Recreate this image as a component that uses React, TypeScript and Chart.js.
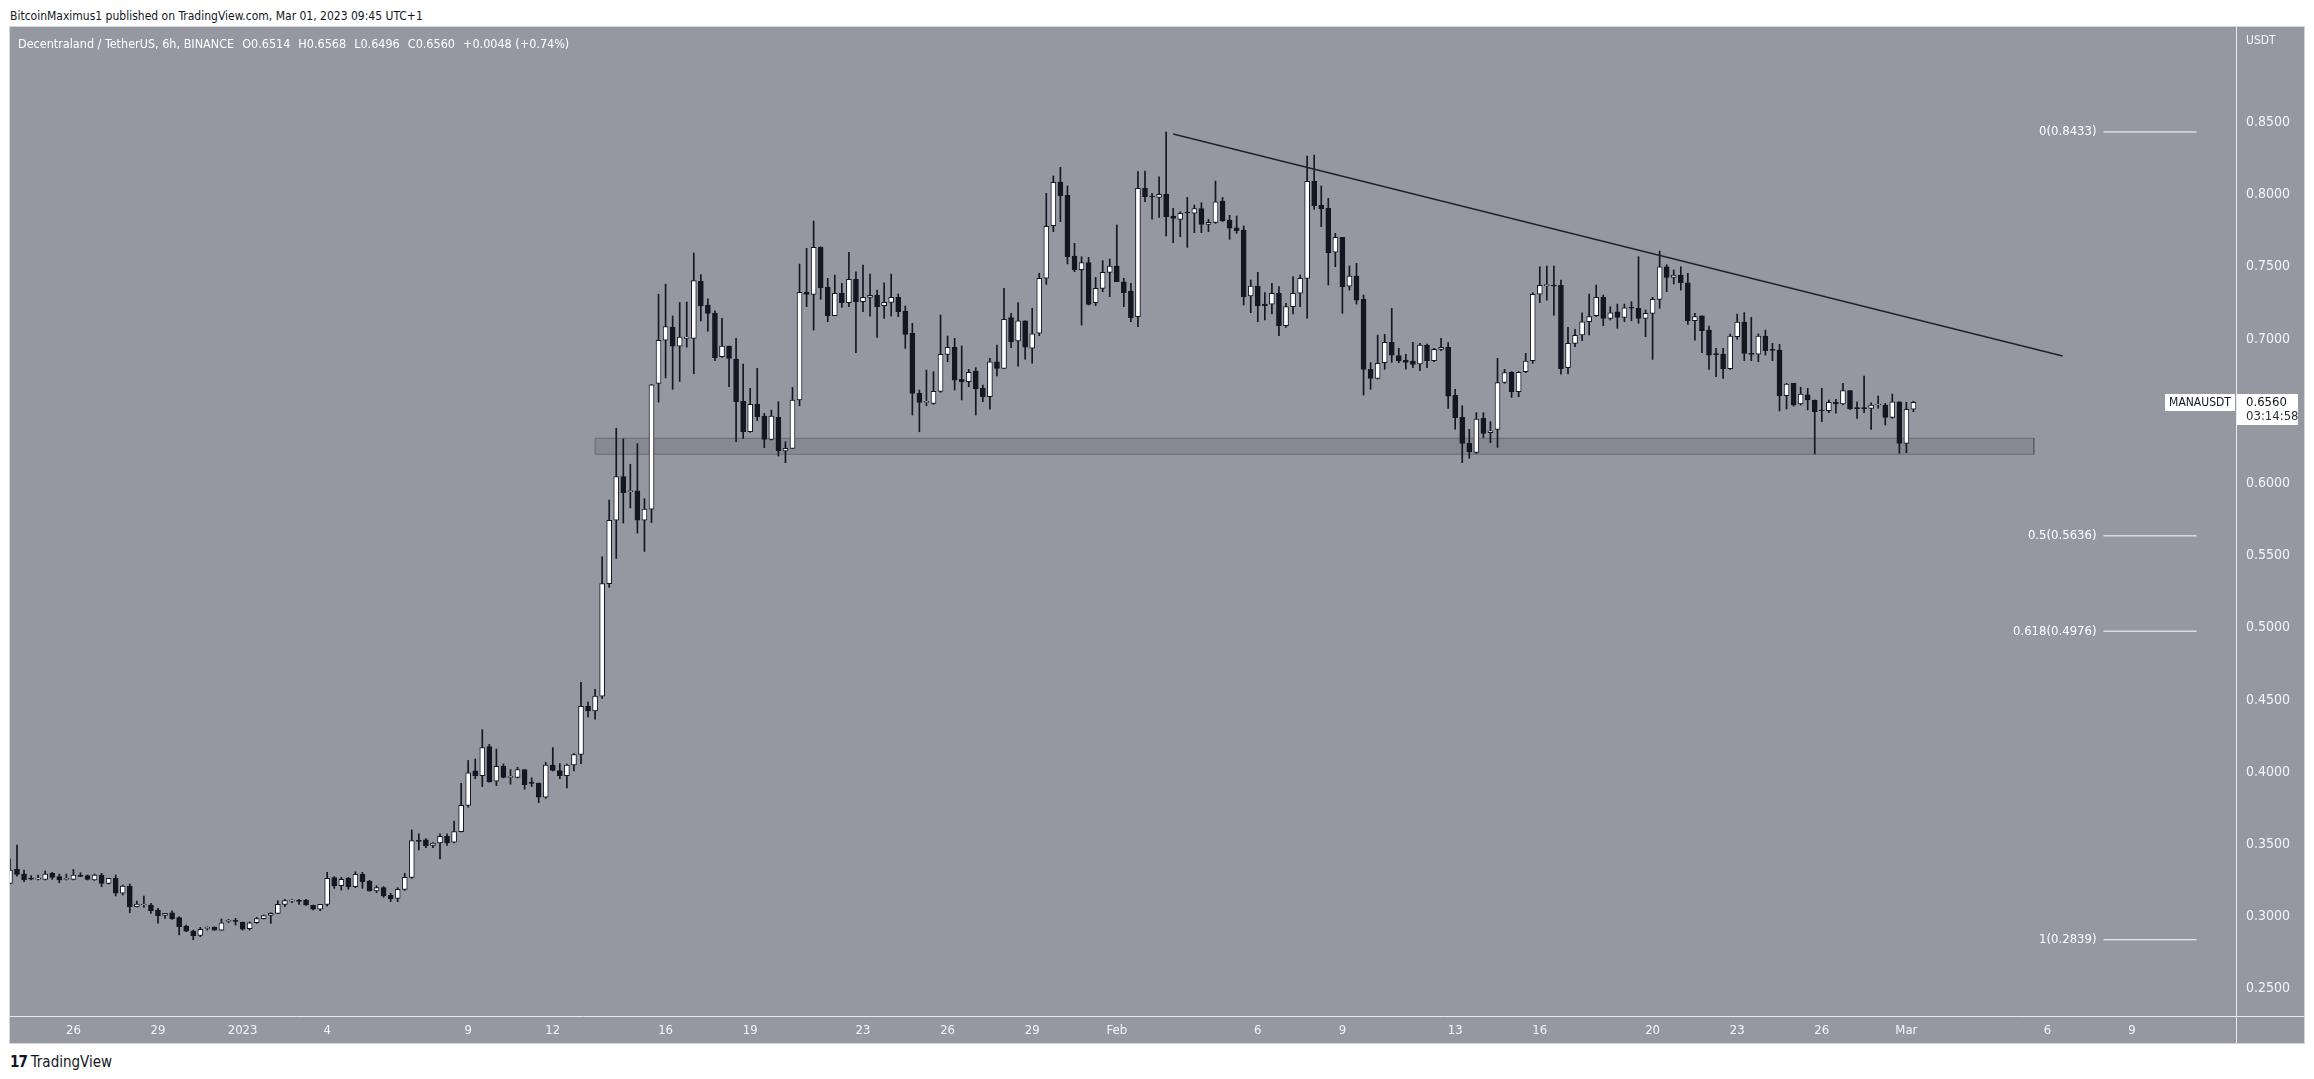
import React, { useEffect, useRef } from 'react';
import { Chart, registerables } from 'chart.js';

Chart.register(...registerables);

const FONT = "'Liberation Sans Narrow', 'Arial Narrow', 'DejaVu Sans Condensed', 'Roboto Condensed', sans-serif";
const PANEL_BG = '#9598a1';
const INK = '#131722';

// 6h candles, index 0 = Dec 23 2022 ~18:00, step 0.25 day, x measured in days from Jan 1 2023
const firstCandleDay = -8.25;
const candleStepDay = 0.25;

const opens = [
  0.3230, 0.3327, 0.3294, 0.3265, 0.3259, 0.3257, 0.3299, 0.3276, 0.3257, 0.3257,
  0.3283, 0.3283, 0.3253, 0.3287, 0.3230, 0.3264, 0.3161, 0.3211, 0.3068, 0.3080,
  0.3080, 0.3045, 0.3008, 0.3026, 0.2992, 0.2934, 0.2899, 0.2869, 0.2918, 0.2925,
  0.2906, 0.2966, 0.2969, 0.2959, 0.2915, 0.2957, 0.2985, 0.3008, 0.3022, 0.3084,
  0.3107, 0.3107, 0.3114, 0.3077, 0.3050, 0.3084, 0.3269, 0.3213, 0.3264, 0.3207,
  0.3292, 0.3246, 0.3177, 0.3200, 0.3147, 0.3126, 0.3188, 0.3271, 0.3524, 0.3531,
  0.3493, 0.3509, 0.3556, 0.3515, 0.3588, 0.3770, 0.4008, 0.3976, 0.4176, 0.3938,
  0.4040, 0.3963, 0.3963, 0.4018, 0.3925, 0.3922, 0.3827, 0.4049, 0.4011, 0.3976,
  0.4049, 0.4122, 0.4456, 0.4424, 0.4526, 0.5305, 0.5744, 0.6046, 0.5942, 0.5948,
  0.5744, 0.5821, 0.6692, 0.6991, 0.7080, 0.6950, 0.7004, 0.7004, 0.7398, 0.7234,
  0.7177, 0.6877, 0.6951, 0.6861, 0.6570, 0.6357, 0.6547, 0.6466, 0.6304, 0.6457,
  0.6224, 0.6242, 0.6577, 0.7322, 0.7308, 0.7634, 0.7357, 0.7161, 0.7315, 0.7251,
  0.7412, 0.7258, 0.7288, 0.7301, 0.7230, 0.7253, 0.7288, 0.7193, 0.7038, 0.6623,
  0.6561, 0.6554, 0.6637, 0.6893, 0.6941, 0.6720, 0.6704, 0.6778, 0.6658, 0.6600,
  0.6842, 0.6796, 0.7147, 0.6986, 0.7126, 0.6935, 0.7039, 0.7420, 0.7784, 0.8086,
  0.7994, 0.7574, 0.7480, 0.7528, 0.7251, 0.7350, 0.7461, 0.7505, 0.7396, 0.7332,
  0.7154, 0.8043, 0.7985, 0.7980, 0.8001, 0.7851, 0.7828, 0.7874, 0.7870, 0.7902,
  0.7793, 0.7807, 0.7955, 0.7823, 0.7770, 0.7754, 0.7297, 0.7366, 0.7242, 0.7240,
  0.7316, 0.7092, 0.7223, 0.7316, 0.7419, 0.8091, 0.7925, 0.7904, 0.7600, 0.7703,
  0.7366, 0.7435, 0.7274, 0.6789, 0.6727, 0.6835, 0.6976, 0.6884, 0.6854, 0.6847,
  0.6826, 0.6958, 0.6849, 0.6928, 0.6942, 0.6609, 0.6457, 0.6277, 0.6214, 0.6450,
  0.6351, 0.6374, 0.6699, 0.6768, 0.6634, 0.6773, 0.6849, 0.7309, 0.7369, 0.7369,
  0.7371, 0.6801, 0.6969, 0.7027, 0.7119, 0.7161, 0.7288, 0.7142, 0.7188, 0.7149,
  0.7216, 0.7212, 0.7142, 0.7177, 0.7274, 0.7500, 0.7426, 0.7442, 0.7389, 0.7126,
  0.7159, 0.7061, 0.6893, 0.6895, 0.6794, 0.7015, 0.7117, 0.6900, 0.6895, 0.7020,
  0.6923, 0.6923, 0.6607, 0.6692, 0.6549, 0.6612, 0.6577, 0.6503, 0.6503, 0.6561,
  0.6549, 0.6642, 0.6519, 0.6519, 0.6519, 0.6542, 0.6542, 0.6457, 0.6565, 0.6277,
  0.6514,
];

const highs = [
  0.3400, 0.3495, 0.3322, 0.3283, 0.3287, 0.3315, 0.3306, 0.3294, 0.3294, 0.3326,
  0.3303, 0.3287, 0.3294, 0.3299, 0.3264, 0.3287, 0.3218, 0.3225, 0.3107, 0.3142,
  0.3091, 0.3056, 0.3022, 0.3040, 0.2999, 0.2941, 0.2906, 0.2925, 0.2929, 0.2929,
  0.2983, 0.2980, 0.2987, 0.2962, 0.2962, 0.2994, 0.3010, 0.3026, 0.3109, 0.3119,
  0.3119, 0.3119, 0.3119, 0.3080, 0.3084, 0.3306, 0.3276, 0.3271, 0.3271, 0.3310,
  0.3306, 0.3250, 0.3213, 0.3207, 0.3160, 0.3200, 0.3299, 0.3599, 0.3572, 0.3540,
  0.3512, 0.3572, 0.3572, 0.3661, 0.3922, 0.4081, 0.4091, 0.4294, 0.4192, 0.4160,
  0.4056, 0.4018, 0.4034, 0.4018, 0.3960, 0.3925, 0.4068, 0.4170, 0.4059, 0.4056,
  0.4129, 0.4621, 0.4485, 0.4574, 0.5490, 0.5884, 0.6380, 0.6307, 0.6132, 0.6275,
  0.5894, 0.6685, 0.7309, 0.7379, 0.7159, 0.7252, 0.7255, 0.7595, 0.7445, 0.7277,
  0.7195, 0.7142, 0.6951, 0.7004, 0.6826, 0.6658, 0.6796, 0.6484, 0.6507, 0.6565,
  0.6288, 0.6664, 0.7518, 0.7627, 0.7816, 0.7638, 0.7419, 0.7442, 0.7385, 0.7599,
  0.7465, 0.7511, 0.7449, 0.7338, 0.7389, 0.7449, 0.7311, 0.7228, 0.7108, 0.6646,
  0.6784, 0.6773, 0.7165, 0.7020, 0.7004, 0.6951, 0.6789, 0.6801, 0.6681, 0.6865,
  0.6958, 0.7350, 0.7177, 0.7251, 0.7126, 0.7212, 0.7454, 0.8008, 0.8128, 0.8188,
  0.8059, 0.7662, 0.7569, 0.7565, 0.7426, 0.7542, 0.7553, 0.7789, 0.7419, 0.7385,
  0.8158, 0.8163, 0.8008, 0.8123, 0.8433, 0.7904, 0.7881, 0.7980, 0.7927, 0.7943,
  0.7828, 0.8093, 0.7980, 0.7856, 0.7851, 0.7782, 0.7408, 0.7461, 0.7320, 0.7385,
  0.7362, 0.7246, 0.7431, 0.7442, 0.8266, 0.8273, 0.8059, 0.7973, 0.7731, 0.7703,
  0.7505, 0.7523, 0.7304, 0.6835, 0.7027, 0.7031, 0.7211, 0.6935, 0.6893, 0.6976,
  0.6969, 0.6965, 0.6935, 0.7004, 0.6974, 0.6651, 0.6538, 0.6374, 0.6489, 0.6489,
  0.6427, 0.6865, 0.6789, 0.6773, 0.6773, 0.6900, 0.7320, 0.7500, 0.7505, 0.7505,
  0.7408, 0.7080, 0.7066, 0.7181, 0.7311, 0.7373, 0.7304, 0.7223, 0.7241, 0.7241,
  0.7258, 0.7569, 0.7200, 0.7288, 0.7608, 0.7514, 0.7477, 0.7500, 0.7454, 0.7177,
  0.7159, 0.7089, 0.6935, 0.6935, 0.7034, 0.7172, 0.7182, 0.7149, 0.7034, 0.7061,
  0.6969, 0.6962, 0.6692, 0.6692, 0.6665, 0.6658, 0.6577, 0.6658, 0.6577, 0.6582,
  0.6692, 0.6642, 0.6565, 0.6743, 0.6558, 0.6605, 0.6554, 0.6618, 0.6565, 0.6561,
  0.6568,
];

const lows = [
  0.3225, 0.3280, 0.3241, 0.3253, 0.3253, 0.3253, 0.3257, 0.3234, 0.3253, 0.3253,
  0.3276, 0.3253, 0.3250, 0.3207, 0.3225, 0.3142, 0.3149, 0.3026, 0.3066, 0.3063,
  0.3022, 0.2953, 0.2987, 0.2980, 0.2872, 0.2895, 0.2839, 0.2860, 0.2906, 0.2904,
  0.2903, 0.2957, 0.2941, 0.2906, 0.2906, 0.2952, 0.2983, 0.2952, 0.3020, 0.3068,
  0.3096, 0.3084, 0.3077, 0.3045, 0.3040, 0.3073, 0.3195, 0.3183, 0.3188, 0.3200,
  0.3195, 0.3175, 0.3165, 0.3133, 0.3103, 0.3103, 0.3180, 0.3264, 0.3461, 0.3477,
  0.3477, 0.3398, 0.3493, 0.3509, 0.3585, 0.3757, 0.3954, 0.3900, 0.3930, 0.3906,
  0.3960, 0.3916, 0.3960, 0.3881, 0.3900, 0.3789, 0.3818, 0.4008, 0.3954, 0.3890,
  0.4008, 0.4059, 0.4383, 0.4367, 0.4510, 0.5280, 0.5480, 0.5725, 0.5830, 0.5655,
  0.5528, 0.5728, 0.6562, 0.6730, 0.6651, 0.6705, 0.6943, 0.6759, 0.7124, 0.7054,
  0.6849, 0.6872, 0.6669, 0.6288, 0.6311, 0.6353, 0.6434, 0.6247, 0.6300, 0.6189,
  0.6143, 0.6242, 0.6537, 0.7223, 0.7061, 0.7274, 0.7119, 0.7161, 0.7218, 0.7223,
  0.6904, 0.7188, 0.7158, 0.7011, 0.7142, 0.7158, 0.7154, 0.6934, 0.6473, 0.6357,
  0.6537, 0.6547, 0.6630, 0.6842, 0.6646, 0.6577, 0.6669, 0.6473, 0.6565, 0.6514,
  0.6743, 0.6794, 0.6939, 0.6812, 0.6859, 0.6831, 0.7022, 0.7378, 0.7743, 0.7812,
  0.7519, 0.7466, 0.7096, 0.7235, 0.7230, 0.7327, 0.7293, 0.7396, 0.7223, 0.7120,
  0.7085, 0.7950, 0.7830, 0.7842, 0.7713, 0.7666, 0.7708, 0.7634, 0.7736, 0.7736,
  0.7743, 0.7800, 0.7812, 0.7690, 0.7731, 0.7235, 0.7182, 0.7119, 0.7131, 0.7173,
  0.7022, 0.7080, 0.7173, 0.7223, 0.7143, 0.7897, 0.7777, 0.7373, 0.7500, 0.7177,
  0.7338, 0.7241, 0.6611, 0.6651, 0.6722, 0.6789, 0.6838, 0.6835, 0.6791, 0.6801,
  0.6780, 0.6801, 0.6842, 0.6918, 0.6519, 0.6374, 0.6143, 0.6173, 0.6207, 0.6316,
  0.6281, 0.6249, 0.6692, 0.6595, 0.6600, 0.6766, 0.6831, 0.7251, 0.7269, 0.7165,
  0.6755, 0.6757, 0.6946, 0.6988, 0.7027, 0.7154, 0.7092, 0.7131, 0.7073, 0.7119,
  0.7126, 0.7108, 0.7015, 0.6858, 0.7212, 0.7327, 0.7380, 0.7338, 0.7101, 0.6992,
  0.6905, 0.6789, 0.6738, 0.6727, 0.6789, 0.6997, 0.6849, 0.6849, 0.6842, 0.6888,
  0.6849, 0.6501, 0.6515, 0.6535, 0.6542, 0.6508, 0.6203, 0.6427, 0.6489, 0.6485,
  0.6542, 0.6512, 0.6450, 0.6489, 0.6374, 0.6519, 0.6404, 0.6450, 0.6208, 0.6212,
  0.6496,
];

const closes = [
  0.3322, 0.3292, 0.3253, 0.3259, 0.3262, 0.3294, 0.3271, 0.3253, 0.3259, 0.3287,
  0.3278, 0.3257, 0.3287, 0.3230, 0.3264, 0.3161, 0.3211, 0.3068, 0.3086, 0.3082,
  0.3040, 0.3006, 0.3022, 0.2985, 0.2929, 0.2899, 0.2867, 0.2911, 0.2920, 0.2906,
  0.2957, 0.2969, 0.2966, 0.2913, 0.2957, 0.2985, 0.3006, 0.3022, 0.3084, 0.3110,
  0.3110, 0.3105, 0.3080, 0.3050, 0.3084, 0.3264, 0.3213, 0.3257, 0.3207, 0.3292,
  0.3241, 0.3179, 0.3200, 0.3142, 0.3124, 0.3188, 0.3271, 0.3525, 0.3520, 0.3490,
  0.3509, 0.3556, 0.3509, 0.3588, 0.3770, 0.3995, 0.3976, 0.4170, 0.3932, 0.4040,
  0.3963, 0.3966, 0.4018, 0.3913, 0.3922, 0.3827, 0.4049, 0.4011, 0.3976, 0.4049,
  0.4122, 0.4456, 0.4424, 0.4526, 0.5305, 0.5744, 0.6046, 0.5935, 0.5942, 0.5744,
  0.5821, 0.6682, 0.6991, 0.7086, 0.6950, 0.7013, 0.7013, 0.7404, 0.7229, 0.7176,
  0.6870, 0.6951, 0.6865, 0.6565, 0.6357, 0.6547, 0.6461, 0.6304, 0.6466, 0.6226,
  0.6242, 0.6577, 0.7322, 0.7308, 0.7634, 0.7355, 0.7161, 0.7315, 0.7251, 0.7412,
  0.7258, 0.7288, 0.7301, 0.7223, 0.7253, 0.7288, 0.7188, 0.7031, 0.6623, 0.6561,
  0.6563, 0.6637, 0.6893, 0.6941, 0.6715, 0.6704, 0.6768, 0.6653, 0.6600, 0.6842,
  0.6796, 0.7135, 0.6981, 0.7126, 0.6942, 0.7036, 0.7420, 0.7780, 0.8084, 0.7992,
  0.7569, 0.7480, 0.7528, 0.7239, 0.7350, 0.7461, 0.7505, 0.7396, 0.7320, 0.7147,
  0.8043, 0.7985, 0.7983, 0.8001, 0.7846, 0.7835, 0.7870, 0.7872, 0.7902, 0.7793,
  0.7807, 0.7950, 0.7819, 0.7766, 0.7750, 0.7293, 0.7366, 0.7228, 0.7230, 0.7316,
  0.7092, 0.7223, 0.7316, 0.7419, 0.8091, 0.7923, 0.7902, 0.7597, 0.7703, 0.7362,
  0.7435, 0.7269, 0.6789, 0.6727, 0.6831, 0.6976, 0.6888, 0.6847, 0.6838, 0.6824,
  0.6958, 0.6849, 0.6928, 0.6942, 0.6604, 0.6454, 0.6277, 0.6219, 0.6445, 0.6346,
  0.6364, 0.6697, 0.6766, 0.6634, 0.6768, 0.6847, 0.7309, 0.7371, 0.7369, 0.7366,
  0.6794, 0.6969, 0.7025, 0.7119, 0.7154, 0.7288, 0.7142, 0.7181, 0.7149, 0.7216,
  0.7212, 0.7142, 0.7177, 0.7274, 0.7500, 0.7426, 0.7442, 0.7389, 0.7126, 0.7154,
  0.7057, 0.6888, 0.6891, 0.6794, 0.7020, 0.7117, 0.6900, 0.6893, 0.7020, 0.6919,
  0.6921, 0.6607, 0.6688, 0.6542, 0.6618, 0.6577, 0.6496, 0.6501, 0.6561, 0.6549,
  0.6642, 0.6515, 0.6517, 0.6517, 0.6542, 0.6544, 0.6457, 0.6565, 0.6277, 0.6512,
  0.6560,
];

// time axis
const xTickDays = [-6, -3, 0, 3, 8, 11, 15, 18, 22, 25, 28, 31, 36, 39, 43, 46, 50, 53, 56, 59, 64, 67];
const xTickLabels = ['26', '29', '2023', '4', '9', '12', '16', '19', '23', '26', '29', 'Feb', '6', '9', '13', '16', '20', '23', '26', 'Mar', '6', '9'];
const xMinDay = -8.248;
const xMaxDay = 70.688;

// price axis
const yTickValues = [0.25, 0.3, 0.35, 0.4, 0.45, 0.5, 0.55, 0.6, 0.65, 0.7, 0.75, 0.8, 0.85];
const yMin = 0.2311;
const yMax = 0.916;

// drawings
const trendDays = [33.0, 64.54];
const trendPrices = [0.8419, 0.6882];
const supportDays = [12.5, 63.52];
const supportPrices = [0.6312, 0.6201];
const fibRatios = ['0', '0.5', '0.618', '1'];
const fibPrices = [0.8433, 0.5636, 0.4976, 0.2839];
const fibDays = [65.99, 69.29];

const symbolName = 'MANAUSDT';
const countdown = '03:14:58';

const dayOf = (i: number) => firstCandleDay + i * candleStepDay;

function buildConfig(): any {
  const n = closes.length;
  const isUp = closes.map((c, i) => c >= opens[i]);
  const wickData = closes.map((_, i) => ({ x: dayOf(i), y: [lows[i], highs[i]] }));
  const bodyData = closes.map((c, i) => ({ x: dayOf(i), y: [opens[i], c] }));

  const boxShape = [
    { x: supportDays[0], y: supportPrices[0] },
    { x: supportDays[1], y: supportPrices[0] },
    { x: supportDays[1], y: supportPrices[1] },
    { x: supportDays[0], y: supportPrices[1] },
    { x: supportDays[0], y: supportPrices[0] },
  ];

  const fibSets = fibPrices.map((p) => ({
    type: 'line',
    data: [{ x: fibDays[0], y: p }, { x: fibDays[1], y: p }],
    borderColor: '#ffffff',
    borderWidth: 1,
    pointRadius: 0,
    fill: false,
    order: 0,
  }));

  const overlay = {
    id: 'tvOverlay',
    afterDraw(chart: any) {
      const { ctx, chartArea, scales } = chart;
      const x = scales.x;
      const y = scales.y;
      ctx.save();
      // separators
      ctx.strokeStyle = '#e9ebf0';
      ctx.lineWidth = 1;
      ctx.beginPath();
      ctx.moveTo(Math.round(chartArea.right) + 0.5, 0);
      ctx.lineTo(Math.round(chartArea.right) + 0.5, chart.height);
      ctx.moveTo(0, Math.round(chartArea.bottom) + 0.5);
      ctx.lineTo(chart.width, Math.round(chartArea.bottom) + 0.5);
      ctx.stroke();

      // fib labels
      ctx.font = `13px ${FONT}`;
      ctx.fillStyle = '#ffffff';
      ctx.textAlign = 'right';
      ctx.textBaseline = 'middle';
      const lx = x.getPixelForValue(fibDays[0]) - 7;
      fibPrices.forEach((p, i) => {
        ctx.fillText(`${fibRatios[i]}(${p.toFixed(4)})`, lx, y.getPixelForValue(p));
      });

      // last price tags
      const last = closes[n - 1];
      const py = Math.round(y.getPixelForValue(last));
      const right = Math.round(chartArea.right);
      ctx.fillStyle = '#ffffff';
      ctx.fillRect(right - 71, py - 8, 70, 17);
      ctx.fillRect(right + 1, py - 8, 61, 31);
      ctx.fillStyle = INK;
      ctx.textAlign = 'center';
      ctx.font = `12px ${FONT}`;
      ctx.fillText(symbolName, right - 36, py + 1);
      ctx.textAlign = 'left';
      ctx.font = `13px ${FONT}`;
      ctx.fillText(last.toFixed(4), right + 10, py + 1);
      ctx.fillStyle = '#2a2e39';
      ctx.fillText(countdown, right + 10, py + 15);
      ctx.restore();
    },
  };

  return {
    type: 'bar',
    data: {
      datasets: [
        {
          type: 'line',
          data: boxShape,
          borderColor: 'rgba(88,91,100,0.65)',
          borderWidth: 1,
          backgroundColor: 'rgba(100,103,112,0.3)',
          pointRadius: 0,
          fill: 'shape',
          tension: 0,
          order: 10,
        },
        {
          type: 'bar',
          data: wickData,
          backgroundColor: INK,
          borderWidth: 0,
          barThickness: 1,
          grouped: false,
          minBarLength: 1,
          order: 3,
        },
        {
          type: 'bar',
          data: bodyData,
          backgroundColor: isUp.map((u) => (u ? '#ffffff' : INK)),
          borderColor: INK,
          borderWidth: 1,
          borderSkipped: false,
          barThickness: 5,
          grouped: false,
          minBarLength: 1,
          order: 2,
        },
        {
          type: 'line',
          data: [{ x: trendDays[0], y: trendPrices[0] }, { x: trendDays[1], y: trendPrices[1] }],
          borderColor: '#1e222d',
          borderWidth: 1.5,
          pointRadius: 0,
          fill: false,
          order: 0,
        },
        ...fibSets,
      ],
    },
    options: {
      animation: false,
      responsive: false,
      devicePixelRatio: 1,
      events: [],
      layout: { padding: 0 },
      plugins: { legend: { display: false }, tooltip: { enabled: false }, title: { display: false } },
      scales: {
        x: {
          type: 'linear',
          position: 'bottom',
          min: xMinDay,
          max: xMaxDay,
          offset: false,
          grid: { display: false, drawTicks: false },
          border: { display: false },
          afterBuildTicks: (s: any) => {
            s.ticks = xTickDays.map((v) => ({ value: v }));
          },
          afterFit: (s: any) => {
            s.height = 27;
            s.paddingLeft = 0;
            s.paddingRight = 0;
          },
          ticks: {
            autoSkip: false,
            maxRotation: 0,
            minRotation: 0,
            padding: 7,
            color: '#f4f5f8',
            font: { family: FONT, size: 13 },
            callback: (v: any) => {
              const k = xTickDays.indexOf(v);
              return k >= 0 ? xTickLabels[k] : '';
            },
          },
        },
        y: {
          type: 'linear',
          position: 'right',
          min: yMin,
          max: yMax,
          grid: { display: false, drawTicks: false },
          border: { display: false },
          afterBuildTicks: (s: any) => {
            s.ticks = yTickValues.map((v) => ({ value: v }));
          },
          afterFit: (s: any) => {
            s.width = 68;
            s.paddingTop = 0;
            s.paddingBottom = 0;
          },
          ticks: {
            padding: 10,
            color: '#f4f5f8',
            font: { family: FONT, size: 14 },
            callback: (v: any) => Number(v).toFixed(4),
          },
        },
      },
    },
    plugins: [overlay],
  };
}

export default function App() {
  const ref = useRef<HTMLCanvasElement>(null);
  useEffect(() => {
    const canvas = ref.current;
    if (!canvas) return;
    const chart = new Chart(canvas, buildConfig());
    return () => chart.destroy();
  }, []);

  const n = closes.length;
  const chg = closes[n - 1] - closes[n - 2];
  const pct = (chg / closes[n - 2]) * 100;
  const sign = chg >= 0 ? '+' : '-';

  return (
    <div
      style={{
        position: 'absolute',
        left: 0,
        top: 0,
        width: 2314,
        height: 1079,
        background: '#ffffff',
        overflow: 'hidden',
        fontFamily: FONT,
      }}
    >
      <div style={{ position: 'absolute', left: 10, top: 8, fontSize: 12, lineHeight: '16px', color: INK, whiteSpace: 'nowrap' }}>
        BitcoinMaximus1 published on TradingView.com, Mar 01, 2023 09:45 UTC+1
      </div>
      <div
        style={{
          position: 'absolute',
          left: 10,
          top: 27,
          width: 2294,
          height: 1016,
          background: PANEL_BG,
          boxShadow: '0 0 0 1px #d3d5db',
        }}
      >
        <canvas ref={ref} width={2294} height={1016} style={{ display: 'block', width: 2294, height: 1016 }} />
        <div style={{ position: 'absolute', left: 8, top: 9, fontSize: 12.5, lineHeight: '16px', color: '#ffffff', whiteSpace: 'nowrap' }}>
          <span>Decentraland / TetherUS, 6h, BINANCE</span>
          <span style={{ marginLeft: 8 }}>O{opens[n - 1].toFixed(4)}</span>
          <span style={{ marginLeft: 8 }}>H{highs[n - 1].toFixed(4)}</span>
          <span style={{ marginLeft: 8 }}>L{lows[n - 1].toFixed(4)}</span>
          <span style={{ marginLeft: 8 }}>C{closes[n - 1].toFixed(4)}</span>
          <span style={{ marginLeft: 8 }}>
            {sign}
            {Math.abs(chg).toFixed(4)} ({sign}
            {Math.abs(pct).toFixed(2)}%)
          </span>
        </div>
        <div style={{ position: 'absolute', left: 2236, top: 6, fontSize: 12, lineHeight: '14px', color: '#f4f5f8' }}>USDT</div>
      </div>
      <div style={{ position: 'absolute', left: 10, top: 1053, fontSize: 15, lineHeight: '18px', color: INK, whiteSpace: 'nowrap' }}>
        <span style={{ fontWeight: 900, letterSpacing: -1, marginRight: 4 }}>17</span>
        <span>TradingView</span>
      </div>
    </div>
  );
}
